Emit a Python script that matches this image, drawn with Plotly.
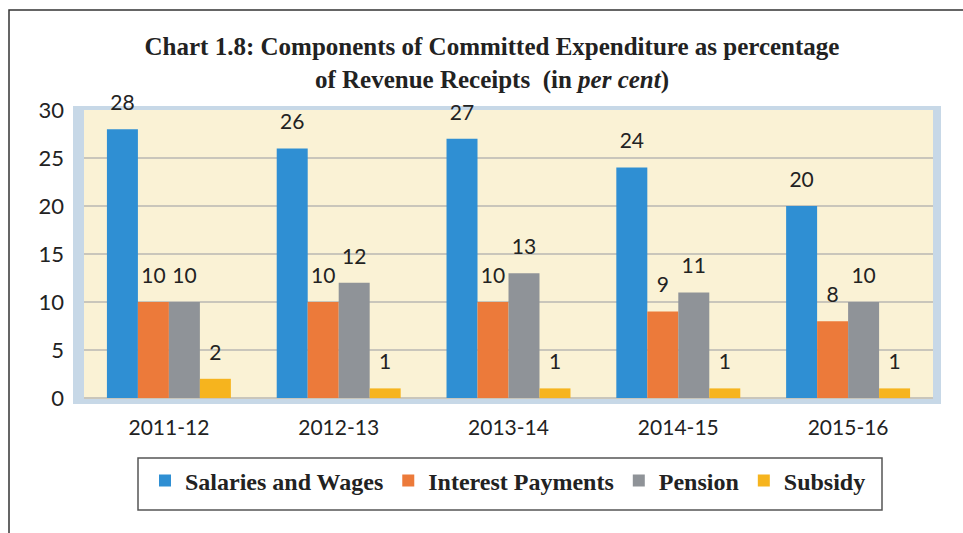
import plotly.graph_objects as go

years = ['2011-12', '2012-13', '2013-14', '2014-15', '2015-16']
salaries = [28, 26, 27, 24, 20]
interest = [10, 10, 10, 9, 8]
pension = [10, 12, 13, 11, 10]
subsidy = [2, 1, 1, 1, 1]

series = [
    ('Salaries and Wages', salaries, '#2f8fd3'),
    ('Interest Payments', interest, '#ec7a3a'),
    ('Pension', pension, '#8f9398'),
    ('Subsidy', subsidy, '#f6b41e'),
]

W, H = 963, 533
L, R, T, B = 84, 933, 110, 398   # plot area in pixels


def px(x):
    return (x - L) / (R - L)


def py(y):
    return (B - y) / (B - T)


fig = go.Figure()
for name, vals, col in series:
    # small base font -> short spacer line under the number, lifts label off the bar
    fig.add_trace(go.Bar(
        x=years, y=vals, name=f'<b>{name}</b>',
        marker=dict(color=col, line=dict(width=0)),
        text=[f"<span style='font-size:21px'>{v}</span><br> " for v in vals],
        textposition='outside',
        textfont=dict(family='Lato', size=11, color='#222222'),
        cliponaxis=False,
    ))

shapes = [
    # light blue wall around plot area
    dict(type='rect', xref='paper', yref='paper', layer='below',
         x0=px(73), x1=px(941), y0=py(404), y1=py(106),
         fillcolor='#c7d8e7', line=dict(width=0)),
    # cream back wall
    dict(type='rect', xref='paper', yref='paper', layer='below',
         x0=0, x1=1, y0=0, y1=1,
         fillcolor='#faf2d5', line=dict(width=0)),
    # outer frame
    dict(type='rect', xref='paper', yref='paper',
         x0=px(9), x1=px(975), y0=py(545), y1=py(10),
         line=dict(color='#333333', width=1.5)),
    # legend frame
    dict(type='rect', xref='paper', yref='paper',
         x0=px(138), x1=px(882), y0=py(510), y1=py(458),
         line=dict(color='#555555', width=1.5)),
]

fig.update_layout(
    width=W, height=H,
    margin=dict(l=L, r=W - R, t=T, b=H - B),
    paper_bgcolor='white',
    plot_bgcolor='rgba(0,0,0,0)',
    barmode='group', bargap=0.27, bargroupgap=0,
    title=dict(
        text='<b>Chart 1.8: Components of Committed Expenditure as percentage'
             '<br>of Revenue Receipts  (in <i>per cent</i>)</b>',
        x=492 / W, xanchor='center', y=1 - 55 / H, yanchor='top',
        font=dict(family='Liberation Serif', size=25, color='#222222'),
    ),
    font=dict(family='Lato', color='#222222'),
    showlegend=True,
    legend=dict(
        orientation='h', x=px(508), xanchor='center', y=py(481), yanchor='middle',
        font=dict(family='Liberation Serif', size=24, color='#222222'),
        bgcolor='rgba(0,0,0,0)', borderwidth=0,
    ),
    shapes=shapes,
)
fig.update_xaxes(type='category', showgrid=False, showline=False, ticks='', ticklabelstandoff=15,
                 tickfont=dict(family='Lato', size=21, color='#222222'))
fig.update_yaxes(range=[0, 30], dtick=5, showgrid=True, gridcolor='#c9c6bb', gridwidth=2,
                 zeroline=True, zerolinecolor='#c9c6bb', zerolinewidth=2,
                 ticks='', ticklabelstandoff=19,
                 tickfont=dict(family='Lato', size=22, color='#222222'))

fig.write_html('out.html', config={'displayModeBar': False},
               post_script="document.body.style.margin='0';")
